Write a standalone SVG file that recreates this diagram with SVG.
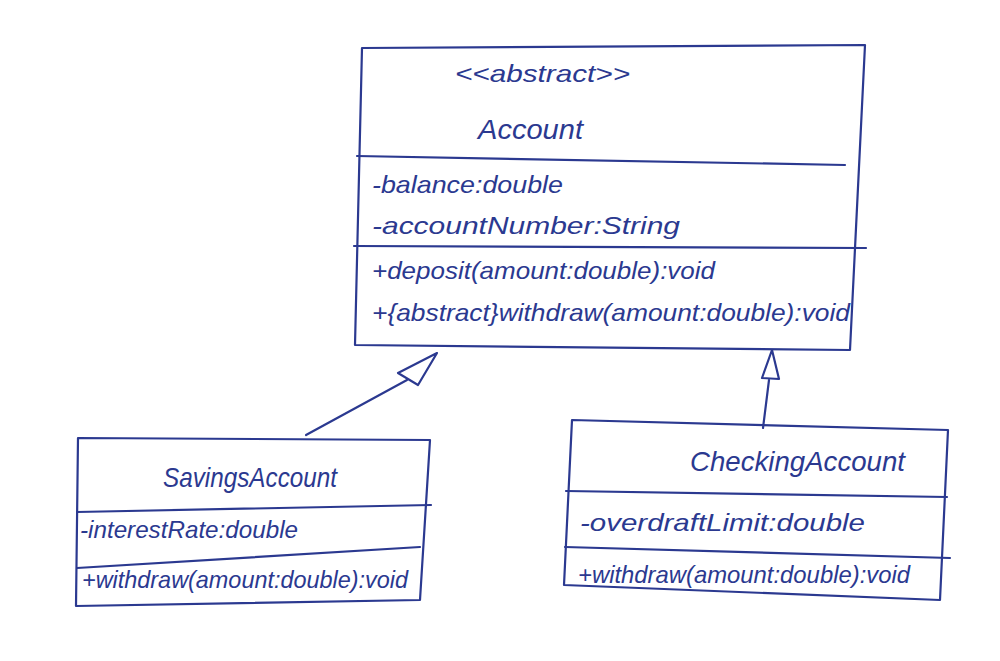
<svg xmlns="http://www.w3.org/2000/svg" width="1000" height="661" viewBox="0 0 1000 661">
<style>
.ln{fill:none;stroke:#2b3990;stroke-width:2.2;stroke-linecap:round;stroke-linejoin:round}
.tx{font-family:"Liberation Sans",Arial,sans-serif;font-style:italic;fill:#2b3990;font-size:24px}
.nm{font-size:28px}
</style>
<rect width="1000" height="661" fill="#ffffff"/>
<g id="Account">
<path class="ln" d="M362,48 L865,45 L850,350 L355,345 L362,48 Z"/>
<path class="ln" d="M357,156 L845,165"/>
<path class="ln" d="M354,246 L866,248"/>
<text class="tx" x="455" y="82" textLength="175" lengthAdjust="spacingAndGlyphs">&lt;&lt;abstract&gt;&gt;</text>
<text class="tx nm" x="478" y="139" textLength="105" lengthAdjust="spacingAndGlyphs">Account</text>
<text class="tx" x="372" y="193" textLength="191" lengthAdjust="spacingAndGlyphs">-balance:double</text>
<text class="tx" x="372" y="234" textLength="308" lengthAdjust="spacingAndGlyphs">-accountNumber:String</text>
<text class="tx" x="372" y="279" textLength="343" lengthAdjust="spacingAndGlyphs">+deposit(amount:double):void</text>
<text class="tx" x="372" y="321" textLength="478" lengthAdjust="spacingAndGlyphs">+{abstract}withdraw(amount:double):void</text>
</g>
<g id="SavingsAccount">
<path class="ln" d="M78,438 L430,440 L420,600 L76,606 L78,438 Z"/>
<path class="ln" d="M77,512 L431,505"/>
<path class="ln" d="M77,568 L420,547"/>
<text class="tx nm" x="163" y="487" textLength="174" lengthAdjust="spacingAndGlyphs">SavingsAccount</text>
<text class="tx" x="80" y="538" textLength="218" lengthAdjust="spacingAndGlyphs">-interestRate:double</text>
<text class="tx" x="82" y="588" textLength="326" lengthAdjust="spacingAndGlyphs">+withdraw(amount:double):void</text>
</g>
<g id="CheckingAccount">
<path class="ln" d="M572,420 L948,430 L940,600 L564,585 L572,420 Z"/>
<path class="ln" d="M566,491 L947,497"/>
<path class="ln" d="M565,547 L950,558"/>
<text class="tx nm" x="690" y="471" textLength="215" lengthAdjust="spacingAndGlyphs">CheckingAccount</text>
<text class="tx" x="580" y="531" textLength="285" lengthAdjust="spacingAndGlyphs">-overdraftLimit:double</text>
<text class="tx" x="578" y="583" textLength="332" lengthAdjust="spacingAndGlyphs">+withdraw(amount:double):void</text>
</g>
<g id="connectors">
<path class="ln" d="M306,435 L407,380"/>
<path class="ln" d="M437,353 L398,373 L418,385 Z"/>
<path class="ln" d="M763,428 L769,380"/>
<path class="ln" d="M772,350 L762,378 L779,379 Z"/>
</g>
</svg>
